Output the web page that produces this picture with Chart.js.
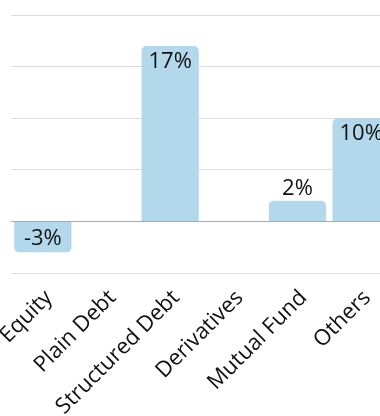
<!DOCTYPE html>
<html>
<head>
<meta charset="utf-8">
<script src="https://cdn.jsdelivr.net/npm/chart.js@4/dist/chart.umd.min.js"></script>
<style>
  html, body { margin: 0; padding: 0; overflow: hidden; background: #fff; }
  #wrap { width: 393px; height: 416px; }
</style>
</head>
<body>
<div id="wrap"><canvas id="myChart" width="393" height="416"></canvas></div>
<script>
const categories = ['Equity', 'Plain Debt', 'Structured Debt', 'Derivatives', 'Mutual Fund', 'Others'];
const values = [-3, 0, 17, 0, 2, 10];
const yTicks = [-5, 0, 5, 10, 15, 20];

const barColor = 'rgb(179, 216, 235)';

// prints "n%" on each non-zero bar: inside the bar end when it fits, above it otherwise
const valueLabels = {
  id: 'valueLabels',
  afterDatasetsDraw(chart) {
    const ctx = chart.ctx;
    const meta = chart.getDatasetMeta(0);
    ctx.save();
    ctx.font = '22px "Open Sans"';
    ctx.fillStyle = '#111';
    ctx.textAlign = 'center';
    ctx.textBaseline = 'alphabetic';
    meta.data.forEach((bar, i) => {
      const v = values[i];
      if (!v) return;
      const h = Math.abs(bar.base - bar.y);
      let y;
      if (h > 30) {
        y = v > 0 ? bar.y + 22 : bar.y - 7;
      } else {
        y = v > 0 ? bar.y - 6 : bar.y + 22;
      }
      ctx.fillText(v + '%', bar.x, y);
    });
    ctx.restore();
  }
};

const ctx = document.getElementById('myChart').getContext('2d');
const myChart = new Chart(ctx, {
  type: 'bar',
  data: {
    labels: categories,
    datasets: [{
      data: values,
      backgroundColor: barColor,
      borderRadius: 5,
      borderSkipped: 'start',
      barPercentage: 0.9,
      categoryPercentage: 1,
    }],
  },
  options: {
    responsive: false,
    animation: false,
    layout: { padding: { top: 15, left: 11, right: 0, bottom: 0 } },
    plugins: {
      legend: { display: false },
      tooltip: { enabled: false },
    },
    scales: {
      x: {
        grid: { display: false },
        border: { display: false },
        ticks: {
          color: '#111',
          font: { family: 'Open Sans', size: 22 },
          minRotation: 45,
          maxRotation: 45,
          padding: 4,
          labelOffset: 6,
        },
        afterFit(scale) {
          // labels may run off the left edge; keep the plot width fixed
          scale.height = 143;
          scale.paddingLeft = 0;
          scale.paddingRight = 0;
        },
      },
      y: {
        min: yTicks[0],
        max: yTicks[yTicks.length - 1],
        afterBuildTicks(scale) { scale.ticks = yTicks.map((v) => ({ value: v })); },
        afterFit(scale) { scale.width = 0; },
        ticks: { display: false },
        border: { display: false },
        grid: {
          color: (c) => (c.tick && c.tick.value === 0 ? '#a9a9a9' : '#dcdcdc'),
          lineWidth: 1,
          drawTicks: false,
        },
      },
    },
  },
  plugins: [valueLabels],
});
</script>
</body>
</html>
